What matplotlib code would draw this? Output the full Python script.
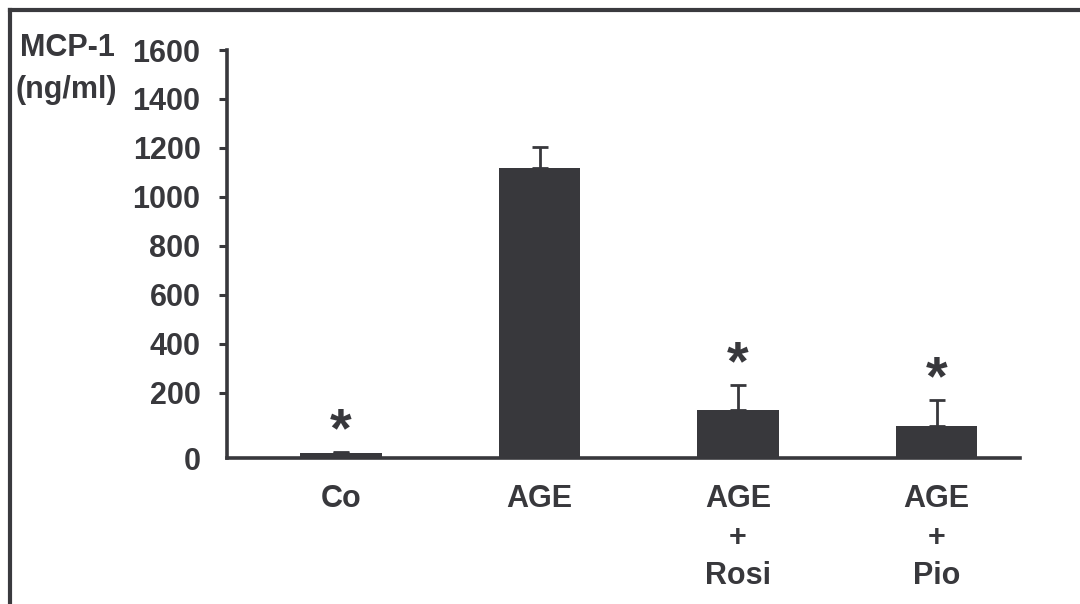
import numpy as np
import matplotlib
matplotlib.use("Agg")
from matplotlib import pyplot as plt
from matplotlib.lines import Line2D

plt.rcParams['font.family'] = ['Liberation Sans', 'DejaVu Sans']
plt.rcParams['font.weight'] = 'bold'

# data
groups = ['Co', 'AGE', 'AGE\n+\nRosi', 'AGE\n+\nPio']
mcp1 = [15, 1118, 148, 98]
sem = [4, 86, 83, 80]
significant = [True, False, True, True]
yticks = [0, 200, 400, 600, 800, 1000, 1200, 1400, 1600]

INK = '#38383c'
FS = 22

# the original axis is stretched below 200
STRETCH = 1.33
OFFSET = 200 * STRETCH - 200


def fwd(v):
    v = np.asarray(v, dtype=float)
    return np.where(v < 200, v * STRETCH, v + OFFSET)


def inv(p):
    p = np.asarray(p, dtype=float)
    return np.where(p < 200 * STRETCH, p / STRETCH, p - OFFSET)


fig = plt.figure(figsize=(10.8, 6.04), dpi=100)
ax = fig.add_axes([227 / 1080, 146 / 604, 793 / 1080, 408 / 604])
ax.set_yscale('function', functions=(fwd, inv))

x = np.arange(len(groups))
ax.bar(x, mcp1, width=0.41, color=INK, zorder=2)
ax.errorbar(x, mcp1, yerr=[np.zeros(len(sem)), sem], fmt='none',
            ecolor=INK, elinewidth=2, capsize=5.5, capthick=2, zorder=1)

for xi, m, s, sig in zip(x, mcp1, sem, significant):
    if sig:
        ax.annotate('*', (xi, m + s), xytext=(0, 4), textcoords='offset points',
                    ha='center', va='baseline', fontsize=40, color=INK)

ax.set_xlim(-0.574, 3.42)
ax.set_ylim(0, 1600)
ax.set_yticks(yticks)
ax.set_yticklabels([str(t) for t in yticks])
ax.set_xticks(x)
ax.set_xticklabels(groups, linespacing=1.37)

ax.tick_params(axis='y', length=6, width=2.2, color=INK, labelsize=FS,
               labelcolor=INK, pad=13)
ax.tick_params(axis='x', length=0, labelsize=FS, labelcolor=INK, pad=19)
ax.yaxis.get_major_ticks()[0].tick1line.set_visible(False)

for side in ['top', 'right']:
    ax.spines[side].set_visible(False)
for side in ['left', 'bottom']:
    ax.spines[side].set_linewidth(2.6)
    ax.spines[side].set_color(INK)

fig.text(67 / 1080, 1 - 48 / 604, 'MCP-1', ha='center', va='center',
         fontsize=FS, color=INK)
fig.text(66 / 1080, 1 - 90 / 604, '(ng/ml)', ha='center', va='center',
         fontsize=FS, color=INK)

# frame remnants from the source figure
fig.add_artist(Line2D([10 / 1080, 1], [1 - 9.5 / 604, 1 - 9.5 / 604],
                      color='#3a3a3e', lw=3, transform=fig.transFigure))
fig.add_artist(Line2D([10 / 1080, 10 / 1080], [0, 1 - 9.5 / 604],
                      color='#3a3a3e', lw=3, transform=fig.transFigure))

fig.savefig('out.png', dpi=100)
